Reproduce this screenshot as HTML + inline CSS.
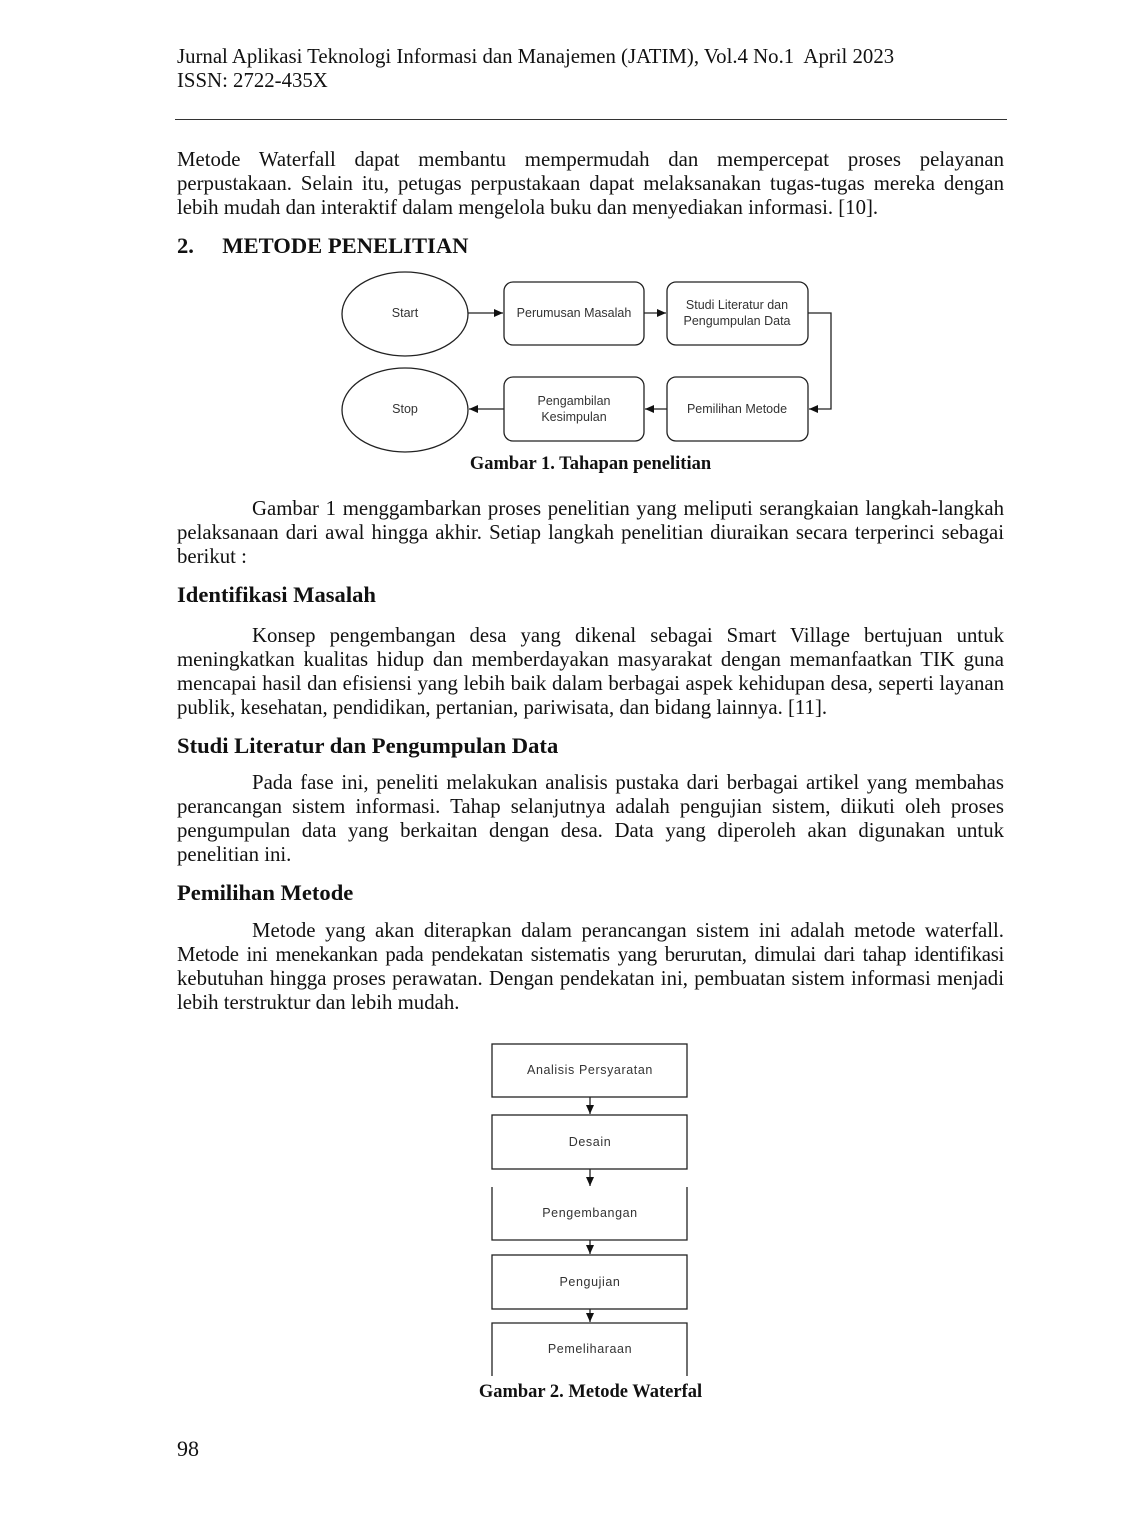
<!DOCTYPE html>
<html><head><style>
body{margin:0;background:#fff;}
#p{position:relative;width:1122px;height:1536px;font-family:"Liberation Serif",serif;color:#111;font-size:20.8px;}
.l{position:absolute;left:177px;width:827px;line-height:24px;white-space:nowrap;}
.j{text-align:justify;text-align-last:justify;white-space:normal;}
.i{left:252px;width:752px;}
.h{font-weight:bold;font-size:22.6px;}
.c{position:absolute;left:0;width:1181px;text-align:center;font-weight:bold;font-size:18.5px;}
svg text{font-family:"Liberation Sans",sans-serif;font-size:12.5px;fill:#333;}
</style></head><body><div id="p">
<div class="l" style="top:45px;font-size:20.8px">Jurnal Aplikasi Teknologi Informasi dan Manajemen (JATIM), Vol.4 No.1&nbsp; April 2023</div>
<div class="l" style="top:69px">ISSN: 2722-435X</div>
<div style="position:absolute;left:175px;top:119px;width:832px;height:1px;background:#333"></div>
<div class="l j" style="top:148px">Metode Waterfall dapat membantu mempermudah dan mempercepat proses pelayanan</div>
<div class="l j" style="top:172px">perpustakaan. Selain itu, petugas perpustakaan dapat melaksanakan tugas-tugas mereka dengan</div>
<div class="l" style="top:196px">lebih mudah dan interaktif dalam mengelola buku dan menyediakan informasi. [10].</div>
<div class="l h" style="top:234px">2.&nbsp;&nbsp;&nbsp;&nbsp; METODE PENELITIAN</div>
<svg style="position:absolute;left:0;top:0" width="1122" height="1536">
<defs><marker id="a" markerWidth="10" markerHeight="10" refX="9" refY="5" orient="auto" markerUnits="userSpaceOnUse"><path d="M0,1 L9,5 L0,9 Z" fill="#111"/></marker></defs>
<g fill="none" stroke="#222" stroke-width="1.3">
<ellipse cx="405" cy="314" rx="63" ry="42"/>
<ellipse cx="405" cy="410" rx="63" ry="42"/>
<rect x="504" y="282" width="140" height="63" rx="9"/>
<rect x="667" y="282" width="141" height="63" rx="9"/>
<rect x="504" y="377" width="140" height="64" rx="9"/>
<rect x="667" y="377" width="141" height="64" rx="9"/>
<line x1="468" y1="313" x2="503" y2="313" marker-end="url(#a)"/>
<line x1="644" y1="313" x2="666" y2="313" marker-end="url(#a)"/>
<polyline points="808,313 831,313 831,409 809,409" marker-end="url(#a)"/>
<line x1="667" y1="409" x2="645" y2="409" marker-end="url(#a)"/>
<line x1="504" y1="409" x2="469" y2="409" marker-end="url(#a)"/>
<rect x="492" y="1044" width="195" height="53"/>
<rect x="492" y="1115" width="195" height="54"/>
<polyline points="492,1187 492,1240 687,1240 687,1187"/>
<rect x="492" y="1255" width="195" height="54"/>
<polyline points="492,1376 492,1323 687,1323 687,1376"/>
<line x1="590" y1="1097" x2="590" y2="1114" marker-end="url(#a)"/>
<line x1="590" y1="1169" x2="590" y2="1186" marker-end="url(#a)"/>
<line x1="590" y1="1240" x2="590" y2="1254" marker-end="url(#a)"/>
<line x1="590" y1="1309" x2="590" y2="1322" marker-end="url(#a)"/>
</g>
<g text-anchor="middle">
<text x="405" y="317">Start</text>
<text x="405" y="413">Stop</text>
<text x="574" y="317">Perumusan Masalah</text>
<text x="737" y="309">Studi Literatur dan</text>
<text x="737" y="325">Pengumpulan Data</text>
<text x="574" y="405">Pengambilan</text>
<text x="574" y="421">Kesimpulan</text>
<text x="737" y="413">Pemilihan Metode</text>
<g style="font-size:12px;letter-spacing:0.6px">
<text x="590" y="1074">Analisis Persyaratan</text>
<text x="590" y="1146">Desain</text>
<text x="590" y="1217">Pengembangan</text>
<text x="590" y="1286">Pengujian</text>
<text x="590" y="1353">Pemeliharaan</text>
</g></g>
</svg>
<div class="c" style="top:454px">Gambar 1. Tahapan penelitian</div>
<div class="l j i" style="top:497px">Gambar 1 menggambarkan proses penelitian yang meliputi serangkaian langkah-langkah</div>
<div class="l j" style="top:521px">pelaksanaan dari awal hingga akhir. Setiap langkah penelitian diuraikan secara terperinci sebagai</div>
<div class="l" style="top:545px">berikut :</div>
<div class="l h" style="top:583px">Identifikasi Masalah</div>
<div class="l j i" style="top:624px">Konsep pengembangan desa yang dikenal sebagai Smart Village bertujuan untuk</div>
<div class="l j" style="top:648px">meningkatkan kualitas hidup dan memberdayakan masyarakat dengan memanfaatkan TIK guna</div>
<div class="l j" style="top:672px">mencapai hasil dan efisiensi yang lebih baik dalam berbagai aspek kehidupan desa, seperti layanan</div>
<div class="l" style="top:696px">publik, kesehatan, pendidikan, pertanian, pariwisata, dan bidang lainnya. [11].</div>
<div class="l h" style="top:734px">Studi Literatur dan Pengumpulan Data</div>
<div class="l j i" style="top:771px">Pada fase ini, peneliti melakukan analisis pustaka dari berbagai artikel yang membahas</div>
<div class="l j" style="top:795px">perancangan sistem informasi. Tahap selanjutnya adalah pengujian sistem, diikuti oleh proses</div>
<div class="l j" style="top:819px">pengumpulan data yang berkaitan dengan desa. Data yang diperoleh akan digunakan untuk</div>
<div class="l" style="top:843px">penelitian ini.</div>
<div class="l h" style="top:881px">Pemilihan Metode</div>
<div class="l j i" style="top:919px">Metode yang akan diterapkan dalam perancangan sistem ini adalah metode waterfall.</div>
<div class="l j" style="top:943px;letter-spacing:-0.3px">Metode ini menekankan pada pendekatan sistematis yang berurutan, dimulai dari tahap identifikasi</div>
<div class="l j" style="top:967px">kebutuhan hingga proses perawatan. Dengan pendekatan ini, pembuatan sistem informasi menjadi</div>
<div class="l" style="top:991px">lebih terstruktur dan lebih mudah.</div>
<div class="c" style="top:1382px">Gambar 2. Metode Waterfal</div>
<div class="l" style="top:1437px;font-size:22px">98</div>
</div></body></html>
